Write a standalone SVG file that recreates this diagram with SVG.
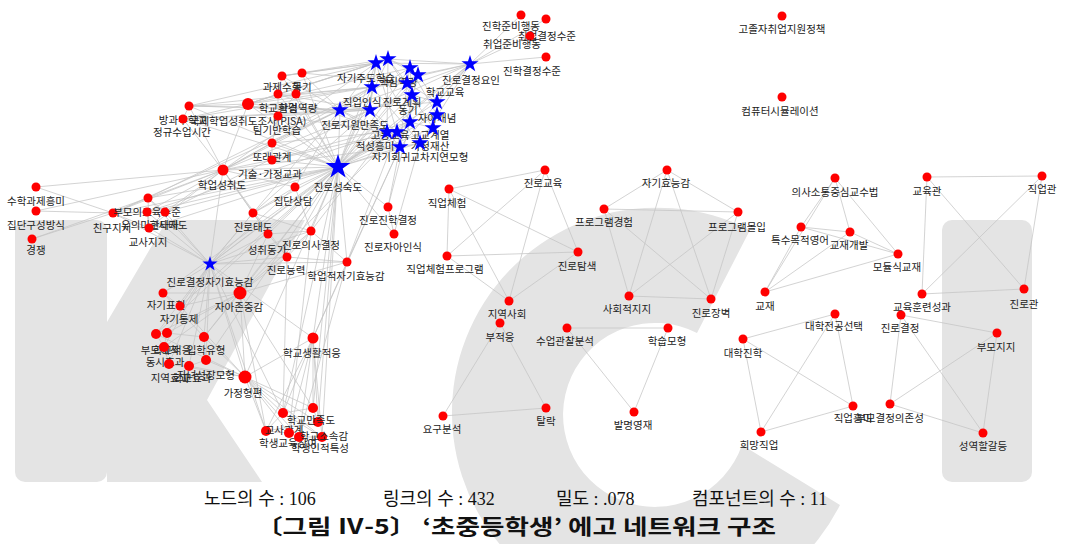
<svg xmlns="http://www.w3.org/2000/svg" width="1066" height="544" viewBox="0 0 1066 544">
<style>
.wm{fill:#e4e4e4}
.e{stroke:#c4c4c4;stroke-width:0.75;fill:none}
.n{fill:#f00}
.s{fill:#00f}
text{font-family:"Noto Sans CJK KR","Noto Sans",sans-serif;font-size:10.5px;fill:#222;text-anchor:middle}
.f1{font-family:"Liberation Serif","Noto Sans CJK KR",serif;font-size:18px;text-anchor:start;fill:#111}
.f2{font-family:"Noto Sans CJK KR",sans-serif;font-size:21px;font-weight:bold;text-anchor:start;fill:#111}
</style>
<defs>
<path id="st" d="M0,-1 L0.223,-0.307 L0.951,-0.309 L0.361,0.117 L0.588,0.809 L0,0.38 L-0.588,0.809 L-0.361,0.117 L-0.951,-0.309 L-0.223,-0.307Z"/>
</defs>
<rect width="1066" height="544" fill="#fff"/>
<g id="watermark">
<rect class="wm" x="15" y="220" width="92" height="262" rx="10"/>
<polygon class="wm" points="107,322 167,220 305,220 207,400 262,482 107,482"/>
<path class="wm" d="M750,230 A205,205 0 1 0 840,505 L742,445 A92,92 0 1 1 697,333 Z"/>
<rect class="wm" x="942" y="220" width="90" height="262" rx="10"/>
</g>
<g id="connectors">
<line class="e" x1="338" y1="167" x2="376" y2="63"/><line class="e" x1="338" y1="167" x2="388" y2="59"/><line class="e" x1="338" y1="167" x2="410" y2="68"/><line class="e" x1="338" y1="167" x2="418" y2="75"/><line class="e" x1="338" y1="167" x2="372" y2="87"/><line class="e" x1="338" y1="167" x2="407" y2="83"/><line class="e" x1="338" y1="167" x2="437" y2="102"/><line class="e" x1="338" y1="167" x2="412" y2="95"/><line class="e" x1="338" y1="167" x2="340" y2="110"/><line class="e" x1="338" y1="167" x2="370" y2="110"/><line class="e" x1="338" y1="167" x2="437" y2="115"/><line class="e" x1="338" y1="167" x2="410" y2="122"/><line class="e" x1="338" y1="167" x2="387" y2="132"/><line class="e" x1="338" y1="167" x2="397" y2="132"/><line class="e" x1="338" y1="167" x2="433" y2="128"/><line class="e" x1="338" y1="167" x2="400" y2="147"/><line class="e" x1="338" y1="167" x2="420" y2="143"/><line class="e" x1="338" y1="167" x2="470" y2="64"/>
<line class="e" x1="338" y1="167" x2="189" y2="106"/><line class="e" x1="338" y1="167" x2="183" y2="119"/><line class="e" x1="338" y1="167" x2="248" y2="104"/><line class="e" x1="338" y1="167" x2="282" y2="76"/><line class="e" x1="338" y1="167" x2="302" y2="73"/><line class="e" x1="338" y1="167" x2="278" y2="94"/><line class="e" x1="338" y1="167" x2="296" y2="94"/><line class="e" x1="338" y1="167" x2="278" y2="116"/><line class="e" x1="338" y1="167" x2="272" y2="143"/><line class="e" x1="338" y1="167" x2="272" y2="160"/><line class="e" x1="338" y1="167" x2="223" y2="170"/>
<line class="e" x1="338" y1="167" x2="295" y2="187"/><line class="e" x1="338" y1="167" x2="253" y2="213"/><line class="e" x1="338" y1="167" x2="268" y2="234"/><line class="e" x1="338" y1="167" x2="311" y2="231"/><line class="e" x1="338" y1="167" x2="287" y2="257"/><line class="e" x1="338" y1="167" x2="347" y2="262"/><line class="e" x1="338" y1="167" x2="388" y2="207"/><line class="e" x1="338" y1="167" x2="394" y2="234"/><line class="e" x1="338" y1="167" x2="210" y2="264"/><line class="e" x1="338" y1="167" x2="240" y2="293"/>
<line class="e" x1="338" y1="167" x2="113" y2="213"/><line class="e" x1="338" y1="167" x2="148" y2="198"/><line class="e" x1="338" y1="167" x2="147" y2="212"/><line class="e" x1="338" y1="167" x2="165" y2="212"/><line class="e" x1="338" y1="167" x2="149" y2="228"/><line class="e" x1="338" y1="167" x2="245" y2="377"/><line class="e" x1="338" y1="167" x2="313" y2="338"/><line class="e" x1="338" y1="167" x2="313" y2="408"/><line class="e" x1="338" y1="167" x2="283" y2="413"/>
<line class="e" x1="338" y1="167" x2="163" y2="293"/><line class="e" x1="338" y1="167" x2="180" y2="306"/><line class="e" x1="338" y1="167" x2="156" y2="334"/><line class="e" x1="338" y1="167" x2="204" y2="337"/><line class="e" x1="338" y1="167" x2="206" y2="360"/><line class="e" x1="338" y1="167" x2="318" y2="422"/><line class="e" x1="338" y1="167" x2="322" y2="437"/>
<line class="e" x1="376" y1="63" x2="388" y2="59"/><line class="e" x1="376" y1="63" x2="372" y2="87"/><line class="e" x1="376" y1="63" x2="340" y2="110"/><line class="e" x1="376" y1="63" x2="370" y2="110"/><line class="e" x1="388" y1="59" x2="410" y2="68"/><line class="e" x1="388" y1="59" x2="407" y2="83"/><line class="e" x1="388" y1="59" x2="418" y2="75"/><line class="e" x1="410" y1="68" x2="418" y2="75"/><line class="e" x1="410" y1="68" x2="407" y2="83"/><line class="e" x1="410" y1="68" x2="412" y2="95"/><line class="e" x1="418" y1="75" x2="437" y2="102"/><line class="e" x1="418" y1="75" x2="470" y2="64"/><line class="e" x1="372" y1="87" x2="407" y2="83"/><line class="e" x1="372" y1="87" x2="340" y2="110"/><line class="e" x1="372" y1="87" x2="370" y2="110"/><line class="e" x1="407" y1="83" x2="412" y2="95"/><line class="e" x1="407" y1="83" x2="437" y2="102"/><line class="e" x1="437" y1="102" x2="437" y2="115"/><line class="e" x1="437" y1="102" x2="412" y2="95"/><line class="e" x1="412" y1="95" x2="370" y2="110"/><line class="e" x1="412" y1="95" x2="410" y2="122"/><line class="e" x1="340" y1="110" x2="370" y2="110"/><line class="e" x1="340" y1="110" x2="387" y2="132"/><line class="e" x1="370" y1="110" x2="387" y2="132"/><line class="e" x1="370" y1="110" x2="397" y2="132"/><line class="e" x1="437" y1="115" x2="433" y2="128"/><line class="e" x1="437" y1="115" x2="410" y2="122"/><line class="e" x1="410" y1="122" x2="397" y2="132"/><line class="e" x1="410" y1="122" x2="433" y2="128"/><line class="e" x1="387" y1="132" x2="397" y2="132"/><line class="e" x1="387" y1="132" x2="400" y2="147"/><line class="e" x1="397" y1="132" x2="400" y2="147"/><line class="e" x1="433" y1="128" x2="420" y2="143"/><line class="e" x1="400" y1="147" x2="420" y2="143"/><line class="e" x1="410" y1="122" x2="420" y2="143"/><line class="e" x1="340" y1="110" x2="400" y2="147"/><line class="e" x1="376" y1="63" x2="410" y2="122"/><line class="e" x1="388" y1="59" x2="433" y2="128"/><line class="e" x1="372" y1="87" x2="420" y2="143"/><line class="e" x1="470" y1="64" x2="376" y2="63"/><line class="e" x1="470" y1="64" x2="388" y2="59"/><line class="e" x1="470" y1="64" x2="372" y2="87"/><line class="e" x1="470" y1="64" x2="340" y2="110"/><line class="e" x1="470" y1="64" x2="370" y2="110"/><line class="e" x1="470" y1="64" x2="387" y2="132"/><line class="e" x1="410" y1="68" x2="437" y2="115"/><line class="e" x1="407" y1="83" x2="400" y2="147"/><line class="e" x1="470" y1="64" x2="437" y2="102"/><line class="e" x1="470" y1="64" x2="420" y2="143"/><line class="e" x1="470" y1="64" x2="410" y2="122"/><line class="e" x1="470" y1="64" x2="400" y2="147"/><line class="e" x1="376" y1="63" x2="397" y2="132"/><line class="e" x1="388" y1="59" x2="387" y2="132"/><line class="e" x1="418" y1="75" x2="400" y2="147"/><line class="e" x1="340" y1="110" x2="437" y2="102"/><line class="e" x1="340" y1="110" x2="410" y2="68"/>
<line class="e" x1="470" y1="64" x2="521" y2="15"/><line class="e" x1="470" y1="64" x2="546" y2="19"/><line class="e" x1="470" y1="64" x2="546" y2="57"/><line class="e" x1="470" y1="64" x2="530" y2="36"/>
<line class="e" x1="340" y1="110" x2="248" y2="104"/><line class="e" x1="340" y1="110" x2="282" y2="76"/><line class="e" x1="340" y1="110" x2="302" y2="73"/><line class="e" x1="372" y1="87" x2="248" y2="104"/><line class="e" x1="372" y1="87" x2="189" y2="106"/><line class="e" x1="376" y1="63" x2="282" y2="76"/><line class="e" x1="376" y1="63" x2="302" y2="73"/><line class="e" x1="370" y1="110" x2="183" y2="119"/><line class="e" x1="370" y1="110" x2="278" y2="94"/><line class="e" x1="372" y1="87" x2="296" y2="94"/><line class="e" x1="387" y1="132" x2="278" y2="116"/><line class="e" x1="340" y1="110" x2="272" y2="143"/><line class="e" x1="388" y1="59" x2="282" y2="76"/><line class="e" x1="388" y1="59" x2="248" y2="104"/><line class="e" x1="376" y1="63" x2="189" y2="106"/><line class="e" x1="370" y1="110" x2="189" y2="106"/>
<line class="e" x1="340" y1="110" x2="223" y2="170"/><line class="e" x1="372" y1="87" x2="223" y2="170"/><line class="e" x1="370" y1="110" x2="223" y2="170"/><line class="e" x1="340" y1="110" x2="113" y2="213"/><line class="e" x1="372" y1="87" x2="148" y2="198"/><line class="e" x1="387" y1="132" x2="147" y2="212"/><line class="e" x1="370" y1="110" x2="165" y2="212"/><line class="e" x1="376" y1="63" x2="223" y2="170"/><line class="e" x1="340" y1="110" x2="189" y2="106"/><line class="e" x1="340" y1="110" x2="183" y2="119"/><line class="e" x1="372" y1="87" x2="183" y2="119"/><line class="e" x1="387" y1="132" x2="272" y2="143"/><line class="e" x1="397" y1="132" x2="272" y2="160"/><line class="e" x1="410" y1="122" x2="272" y2="160"/><line class="e" x1="400" y1="147" x2="223" y2="170"/><line class="e" x1="370" y1="110" x2="278" y2="116"/><line class="e" x1="387" y1="132" x2="278" y2="94"/><line class="e" x1="388" y1="59" x2="278" y2="94"/><line class="e" x1="410" y1="68" x2="296" y2="94"/><line class="e" x1="407" y1="83" x2="302" y2="73"/><line class="e" x1="376" y1="63" x2="248" y2="104"/>
<line class="e" x1="400" y1="147" x2="388" y2="207"/><line class="e" x1="420" y1="143" x2="394" y2="234"/><line class="e" x1="387" y1="132" x2="311" y2="231"/><line class="e" x1="397" y1="132" x2="347" y2="262"/><line class="e" x1="400" y1="147" x2="347" y2="262"/><line class="e" x1="410" y1="122" x2="388" y2="207"/><line class="e" x1="340" y1="110" x2="295" y2="187"/><line class="e" x1="370" y1="110" x2="253" y2="213"/><line class="e" x1="387" y1="132" x2="210" y2="264"/><line class="e" x1="340" y1="110" x2="210" y2="264"/><line class="e" x1="400" y1="147" x2="313" y2="338"/><line class="e" x1="397" y1="132" x2="240" y2="293"/>
<line class="e" x1="189" y1="106" x2="183" y2="119"/><line class="e" x1="189" y1="106" x2="248" y2="104"/><line class="e" x1="183" y1="119" x2="248" y2="104"/><line class="e" x1="248" y1="104" x2="278" y2="94"/><line class="e" x1="248" y1="104" x2="296" y2="94"/><line class="e" x1="282" y1="76" x2="302" y2="73"/><line class="e" x1="282" y1="76" x2="278" y2="94"/><line class="e" x1="278" y1="94" x2="296" y2="94"/><line class="e" x1="296" y1="94" x2="278" y2="116"/><line class="e" x1="278" y1="94" x2="278" y2="116"/><line class="e" x1="248" y1="104" x2="278" y2="116"/><line class="e" x1="278" y1="116" x2="272" y2="143"/><line class="e" x1="272" y1="143" x2="272" y2="160"/><line class="e" x1="272" y1="160" x2="223" y2="170"/><line class="e" x1="223" y1="170" x2="272" y2="143"/><line class="e" x1="248" y1="104" x2="223" y2="170"/><line class="e" x1="189" y1="106" x2="223" y2="170"/><line class="e" x1="183" y1="119" x2="223" y2="170"/>
<line class="e" x1="36" y1="187" x2="113" y2="213"/><line class="e" x1="36" y1="211" x2="113" y2="213"/><line class="e" x1="32" y1="239" x2="113" y2="213"/><line class="e" x1="36" y1="187" x2="223" y2="170"/><line class="e" x1="36" y1="211" x2="223" y2="170"/><line class="e" x1="32" y1="239" x2="148" y2="198"/>
<line class="e" x1="113" y1="213" x2="148" y2="198"/><line class="e" x1="113" y1="213" x2="147" y2="212"/><line class="e" x1="113" y1="213" x2="165" y2="212"/><line class="e" x1="113" y1="213" x2="149" y2="228"/><line class="e" x1="148" y1="198" x2="165" y2="212"/><line class="e" x1="147" y1="212" x2="149" y2="228"/><line class="e" x1="165" y1="212" x2="149" y2="228"/><line class="e" x1="148" y1="198" x2="149" y2="228"/>
<line class="e" x1="113" y1="213" x2="223" y2="170"/><line class="e" x1="148" y1="198" x2="223" y2="170"/><line class="e" x1="147" y1="212" x2="223" y2="170"/><line class="e" x1="165" y1="212" x2="223" y2="170"/><line class="e" x1="149" y1="228" x2="223" y2="170"/>
<line class="e" x1="113" y1="213" x2="210" y2="264"/><line class="e" x1="148" y1="198" x2="210" y2="264"/><line class="e" x1="147" y1="212" x2="210" y2="264"/><line class="e" x1="165" y1="212" x2="210" y2="264"/><line class="e" x1="149" y1="228" x2="210" y2="264"/>
<line class="e" x1="210" y1="264" x2="240" y2="293"/><line class="e" x1="210" y1="264" x2="163" y2="293"/><line class="e" x1="210" y1="264" x2="180" y2="306"/><line class="e" x1="210" y1="264" x2="156" y2="334"/><line class="e" x1="210" y1="264" x2="167" y2="333"/><line class="e" x1="210" y1="264" x2="164" y2="347"/><line class="e" x1="210" y1="264" x2="204" y2="337"/><line class="e" x1="210" y1="264" x2="206" y2="360"/><line class="e" x1="210" y1="264" x2="169" y2="364"/><line class="e" x1="210" y1="264" x2="189" y2="366"/><line class="e" x1="210" y1="264" x2="245" y2="377"/><line class="e" x1="210" y1="264" x2="253" y2="213"/><line class="e" x1="210" y1="264" x2="268" y2="234"/><line class="e" x1="210" y1="264" x2="311" y2="231"/><line class="e" x1="210" y1="264" x2="287" y2="257"/><line class="e" x1="210" y1="264" x2="347" y2="262"/><line class="e" x1="210" y1="264" x2="223" y2="170"/><line class="e" x1="210" y1="264" x2="295" y2="187"/><line class="e" x1="210" y1="264" x2="283" y2="413"/><line class="e" x1="210" y1="264" x2="266" y2="431"/><line class="e" x1="210" y1="264" x2="313" y2="338"/>
<line class="e" x1="163" y1="293" x2="180" y2="306"/><line class="e" x1="163" y1="293" x2="240" y2="293"/><line class="e" x1="180" y1="306" x2="240" y2="293"/><line class="e" x1="156" y1="334" x2="167" y2="333"/><line class="e" x1="156" y1="334" x2="164" y2="347"/><line class="e" x1="167" y1="333" x2="164" y2="347"/><line class="e" x1="167" y1="333" x2="204" y2="337"/><line class="e" x1="204" y1="337" x2="206" y2="360"/><line class="e" x1="164" y1="347" x2="169" y2="364"/><line class="e" x1="169" y1="364" x2="189" y2="366"/><line class="e" x1="206" y1="360" x2="189" y2="366"/><line class="e" x1="204" y1="337" x2="240" y2="293"/><line class="e" x1="206" y1="360" x2="245" y2="377"/><line class="e" x1="189" y1="366" x2="245" y2="377"/><line class="e" x1="156" y1="334" x2="245" y2="377"/><line class="e" x1="167" y1="333" x2="240" y2="293"/><line class="e" x1="164" y1="347" x2="240" y2="293"/><line class="e" x1="204" y1="337" x2="245" y2="377"/><line class="e" x1="169" y1="364" x2="245" y2="377"/><line class="e" x1="180" y1="306" x2="245" y2="377"/><line class="e" x1="240" y1="293" x2="245" y2="377"/><line class="e" x1="156" y1="334" x2="240" y2="293"/><line class="e" x1="163" y1="293" x2="204" y2="337"/>
<line class="e" x1="295" y1="187" x2="253" y2="213"/><line class="e" x1="253" y1="213" x2="268" y2="234"/><line class="e" x1="268" y1="234" x2="311" y2="231"/><line class="e" x1="311" y1="231" x2="287" y2="257"/><line class="e" x1="287" y1="257" x2="347" y2="262"/><line class="e" x1="253" y1="213" x2="311" y2="231"/><line class="e" x1="295" y1="187" x2="311" y2="231"/><line class="e" x1="268" y1="234" x2="287" y2="257"/><line class="e" x1="388" y1="207" x2="394" y2="234"/><line class="e" x1="295" y1="187" x2="223" y2="170"/><line class="e" x1="253" y1="213" x2="223" y2="170"/><line class="e" x1="240" y1="293" x2="287" y2="257"/><line class="e" x1="240" y1="293" x2="268" y2="234"/><line class="e" x1="240" y1="293" x2="311" y2="231"/><line class="e" x1="347" y1="262" x2="311" y2="231"/><line class="e" x1="240" y1="293" x2="347" y2="262"/><line class="e" x1="223" y1="170" x2="268" y2="234"/><line class="e" x1="223" y1="170" x2="287" y2="257"/>
<line class="e" x1="245" y1="377" x2="283" y2="413"/><line class="e" x1="245" y1="377" x2="313" y2="408"/><line class="e" x1="245" y1="377" x2="318" y2="422"/><line class="e" x1="245" y1="377" x2="266" y2="431"/><line class="e" x1="245" y1="377" x2="289" y2="433"/><line class="e" x1="245" y1="377" x2="299" y2="437"/><line class="e" x1="245" y1="377" x2="322" y2="437"/>
<line class="e" x1="313" y1="338" x2="283" y2="413"/><line class="e" x1="313" y1="338" x2="313" y2="408"/><line class="e" x1="313" y1="338" x2="318" y2="422"/><line class="e" x1="313" y1="338" x2="266" y2="431"/><line class="e" x1="313" y1="338" x2="289" y2="433"/><line class="e" x1="313" y1="338" x2="299" y2="437"/><line class="e" x1="313" y1="338" x2="322" y2="437"/><line class="e" x1="313" y1="338" x2="245" y2="377"/><line class="e" x1="313" y1="338" x2="347" y2="262"/>
<line class="e" x1="283" y1="413" x2="313" y2="408"/><line class="e" x1="313" y1="408" x2="318" y2="422"/><line class="e" x1="266" y1="431" x2="289" y2="433"/><line class="e" x1="289" y1="433" x2="299" y2="437"/><line class="e" x1="299" y1="437" x2="322" y2="437"/><line class="e" x1="283" y1="413" x2="322" y2="437"/><line class="e" x1="266" y1="431" x2="318" y2="422"/><line class="e" x1="283" y1="413" x2="266" y2="431"/><line class="e" x1="240" y1="293" x2="313" y2="408"/><line class="e" x1="240" y1="293" x2="266" y2="431"/><line class="e" x1="287" y1="257" x2="283" y2="413"/><line class="e" x1="311" y1="231" x2="289" y2="433"/><line class="e" x1="347" y1="262" x2="299" y2="437"/>
<line class="e" x1="449" y1="189" x2="545" y2="170"/><line class="e" x1="449" y1="189" x2="447" y2="256"/><line class="e" x1="449" y1="189" x2="578" y2="252"/><line class="e" x1="449" y1="189" x2="509" y2="301"/><line class="e" x1="545" y1="170" x2="447" y2="256"/><line class="e" x1="545" y1="170" x2="578" y2="252"/><line class="e" x1="545" y1="170" x2="509" y2="301"/><line class="e" x1="447" y1="256" x2="578" y2="252"/><line class="e" x1="447" y1="256" x2="509" y2="301"/><line class="e" x1="578" y1="252" x2="509" y2="301"/>
<line class="e" x1="667" y1="170" x2="604" y2="209"/><line class="e" x1="667" y1="170" x2="738" y2="212"/><line class="e" x1="667" y1="170" x2="629" y2="296"/><line class="e" x1="667" y1="170" x2="711" y2="299"/><line class="e" x1="604" y1="209" x2="738" y2="212"/><line class="e" x1="604" y1="209" x2="629" y2="296"/><line class="e" x1="604" y1="209" x2="711" y2="299"/><line class="e" x1="738" y1="212" x2="629" y2="296"/><line class="e" x1="738" y1="212" x2="711" y2="299"/><line class="e" x1="629" y1="296" x2="711" y2="299"/>
<line class="e" x1="500" y1="323" x2="443" y2="416"/><line class="e" x1="500" y1="323" x2="546" y2="408"/><line class="e" x1="443" y1="416" x2="546" y2="408"/>
<line class="e" x1="567" y1="328" x2="668" y2="328"/><line class="e" x1="567" y1="328" x2="634" y2="412"/><line class="e" x1="668" y1="328" x2="634" y2="412"/>
<line class="e" x1="835" y1="178" x2="801" y2="227"/><line class="e" x1="835" y1="178" x2="850" y2="232"/><line class="e" x1="835" y1="178" x2="898" y2="254"/><line class="e" x1="835" y1="178" x2="765" y2="292"/><line class="e" x1="801" y1="227" x2="850" y2="232"/><line class="e" x1="801" y1="227" x2="898" y2="254"/><line class="e" x1="801" y1="227" x2="765" y2="292"/><line class="e" x1="850" y1="232" x2="898" y2="254"/><line class="e" x1="850" y1="232" x2="765" y2="292"/><line class="e" x1="898" y1="254" x2="765" y2="292"/>
<line class="e" x1="927" y1="177" x2="1042" y2="176"/><line class="e" x1="927" y1="177" x2="922" y2="294"/><line class="e" x1="927" y1="177" x2="1024" y2="289"/><line class="e" x1="1042" y1="176" x2="922" y2="294"/><line class="e" x1="1042" y1="176" x2="1024" y2="289"/><line class="e" x1="922" y1="294" x2="1024" y2="289"/>
<line class="e" x1="743" y1="339" x2="835" y2="314"/><line class="e" x1="743" y1="339" x2="853" y2="406"/><line class="e" x1="743" y1="339" x2="761" y2="432"/><line class="e" x1="835" y1="314" x2="853" y2="406"/><line class="e" x1="835" y1="314" x2="761" y2="432"/><line class="e" x1="853" y1="406" x2="761" y2="432"/>
<line class="e" x1="901" y1="315" x2="997" y2="333"/><line class="e" x1="901" y1="315" x2="890" y2="404"/><line class="e" x1="901" y1="315" x2="983" y2="433"/><line class="e" x1="997" y1="333" x2="890" y2="404"/><line class="e" x1="997" y1="333" x2="983" y2="433"/><line class="e" x1="890" y1="404" x2="983" y2="433"/>
</g>
<g id="n-jinroseongsukdo"><use href="#st" class="s" transform="translate(338,167) scale(13)"/><text x="338" y="191">진로성숙도</text></g>
<g id="n-jinrogyeoljeongjagihyoneunggam"><use href="#st" class="s" transform="translate(210,264) scale(8)"/><text x="210" y="286">진로결정자기효능감</text></g>
<g id="n-jinrogyeoljeongyoin"><use href="#st" class="s" transform="translate(470,64) scale(9)"/><text x="471" y="84">진로결정요인</text></g>
<g id="n-c1"><use href="#st" class="s" transform="translate(376,63) scale(9)"/><text x="366" y="82">자기주도학습</text></g>
<g id="n-c2"><use href="#st" class="s" transform="translate(388,59) scale(9)"/><text x="398" y="86">핵심역량</text></g>
<g id="n-c3"><use href="#st" class="s" transform="translate(410,68) scale(9)"/><text x="445" y="96">학교교육</text></g>
<g id="n-c4"><use href="#st" class="s" transform="translate(418,75) scale(9)"/></g>
<g id="n-c5"><use href="#st" class="s" transform="translate(372,87) scale(9)"/><text x="362" y="106">직업인식</text></g>
<g id="n-c6"><use href="#st" class="s" transform="translate(407,83) scale(9)"/><text x="402" y="106">진로계획</text></g>
<g id="n-c7"><use href="#st" class="s" transform="translate(437,102) scale(9)"/><text x="437" y="122">자아개념</text></g>
<g id="n-c8"><use href="#st" class="s" transform="translate(412,95) scale(9)"/><text x="408" y="114">동기</text></g>
<g id="n-c9"><use href="#st" class="s" transform="translate(340,110) scale(9)"/><text x="355" y="129">진로지원만족도</text></g>
<g id="n-c10"><use href="#st" class="s" transform="translate(370,110) scale(9)"/></g>
<g id="n-c11"><use href="#st" class="s" transform="translate(437,115) scale(9)"/><text x="430" y="139">고교계열</text></g>
<g id="n-c12"><use href="#st" class="s" transform="translate(410,122) scale(9)"/><text x="390" y="139">고등교육</text></g>
<g id="n-c13"><use href="#st" class="s" transform="translate(387,132) scale(9)"/><text x="375" y="150">적성흥미</text></g>
<g id="n-c14"><use href="#st" class="s" transform="translate(397,132) scale(9)"/></g>
<g id="n-c15"><use href="#st" class="s" transform="translate(433,128) scale(9)"/><text x="430" y="150">가정재산</text></g>
<g id="n-c16"><use href="#st" class="s" transform="translate(400,147) scale(9)"/><text x="420" y="161">자기회귀교차지연모형</text></g>
<g id="n-c17"><use href="#st" class="s" transform="translate(420,143) scale(9)"/></g>
<g id="n-t1"><circle class="n" cx="521" cy="15" r="4.5"/><text x="511" y="30">진학준비행동</text></g>
<g id="n-t2"><circle class="n" cx="546" cy="19" r="4.5"/><text x="547" y="40">취업결정수준</text></g>
<g id="n-t3"><circle class="n" cx="530" cy="36" r="4.5"/><text x="512" y="48">취업준비행동</text></g>
<g id="n-t4"><circle class="n" cx="546" cy="57" r="4.5"/><text x="532" y="75">진학결정수준</text></g>
<g id="n-u1"><circle class="n" cx="189" cy="106" r="4.5"/><text x="183" y="124">방과후학교</text></g>
<g id="n-u2"><circle class="n" cx="183" cy="119" r="4.5"/><text x="182" y="136">정규수업시간</text></g>
<g id="n-u3"><circle class="n" cx="248" cy="104" r="6"/><text x="248" y="125">국제학업성취도조사(PISA)</text></g>
<g id="n-u4"><circle class="n" cx="282" cy="76" r="4.5"/><text x="282" y="91">과제수행</text></g>
<g id="n-u5"><circle class="n" cx="302" cy="73" r="4.5"/><text x="302" y="91">동기</text></g>
<g id="n-u6"><circle class="n" cx="278" cy="94" r="4.5"/><text x="278" y="112">학교환경</text></g>
<g id="n-u7"><circle class="n" cx="296" cy="94" r="4.5"/><text x="298" y="112">학업역량</text></g>
<g id="n-u8"><circle class="n" cx="278" cy="116" r="4.5"/><text x="277" y="134">팀기반학습</text></g>
<g id="n-u9"><circle class="n" cx="272" cy="143" r="4.5"/><text x="272" y="161">또래관계</text></g>
<g id="n-u10"><circle class="n" cx="272" cy="160" r="4.5"/><text x="270" y="178">기술·가정교과</text></g>
<g id="n-u11"><circle class="n" cx="223" cy="170" r="5.5"/><text x="222" y="189">학업성취도</text></g>
<g id="n-l1"><circle class="n" cx="36" cy="187" r="4.5"/><text x="36" y="205">수학과제흥미</text></g>
<g id="n-l2"><circle class="n" cx="36" cy="211" r="4.5"/><text x="36" y="229">집단구성방식</text></g>
<g id="n-l3"><circle class="n" cx="32" cy="239" r="4.5"/><text x="36" y="254">경쟁</text></g>
<g id="n-l4"><circle class="n" cx="113" cy="213" r="4.5"/><text x="112" y="232">친구지지</text></g>
<g id="n-l5"><circle class="n" cx="148" cy="198" r="4.5"/><text x="147" y="216">부모의교육수준</text></g>
<g id="n-l6"><circle class="n" cx="147" cy="212" r="4.5"/><text x="150" y="229">유의미한타자</text></g>
<g id="n-l7"><circle class="n" cx="165" cy="212" r="4.5"/><text x="168" y="229">교사태도</text></g>
<g id="n-l8"><circle class="n" cx="149" cy="228" r="4.5"/><text x="148" y="246">교사지지</text></g>
<g id="n-m1"><circle class="n" cx="295" cy="187" r="4.5"/><text x="293" y="205">집단상담</text></g>
<g id="n-m2"><circle class="n" cx="253" cy="213" r="4.5"/><text x="253" y="231">진로태도</text></g>
<g id="n-m3"><circle class="n" cx="268" cy="234" r="4.5"/><text x="267" y="254">성취동기</text></g>
<g id="n-m4"><circle class="n" cx="311" cy="231" r="4.5"/><text x="311" y="249">진로의사결정</text></g>
<g id="n-m5"><circle class="n" cx="287" cy="257" r="4.5"/><text x="286" y="274">진로능력</text></g>
<g id="n-m6"><circle class="n" cx="347" cy="262" r="4.5"/><text x="346" y="280">학업적자기효능감</text></g>
<g id="n-m7"><circle class="n" cx="388" cy="207" r="4.5"/><text x="388" y="224">진로진학결정</text></g>
<g id="n-m8"><circle class="n" cx="394" cy="234" r="4.5"/><text x="393" y="251">진로자아인식</text></g>
<g id="n-k1"><circle class="n" cx="240" cy="293" r="6.5"/><text x="239" y="311">자아존중감</text></g>
<g id="n-k2"><circle class="n" cx="163" cy="293" r="4.5"/><text x="166" y="309">자기표현</text></g>
<g id="n-k3"><circle class="n" cx="180" cy="306" r="4.5"/><text x="179" y="323">자기통제</text></g>
<g id="n-k4"><circle class="n" cx="156" cy="334" r="5"/><text x="160" y="354">부모애착</text></g>
<g id="n-k5"><circle class="n" cx="167" cy="333" r="5"/><text x="172" y="354">학교적응</text></g>
<g id="n-k6"><circle class="n" cx="164" cy="347" r="5"/><text x="165" y="366">동시효과</text></g>
<g id="n-k7"><circle class="n" cx="204" cy="337" r="5"/><text x="206" y="354">입학유형</text></g>
<g id="n-k8"><circle class="n" cx="206" cy="360" r="5"/><text x="206" y="379">자녀성장모형</text></g>
<g id="n-k9"><circle class="n" cx="169" cy="364" r="5"/><text x="170" y="382">지역효과</text></g>
<g id="n-k10"><circle class="n" cx="189" cy="366" r="5"/><text x="192" y="382">학교효과</text></g>
<g id="n-k11"><circle class="n" cx="245" cy="377" r="6.5"/><text x="243" y="397">가정형편</text></g>
<g id="n-k12"><circle class="n" cx="313" cy="338" r="5.5"/><text x="312" y="357">학교생활적응</text></g>
<g id="n-w1"><circle class="n" cx="283" cy="413" r="5"/></g>
<g id="n-w2"><circle class="n" cx="313" cy="408" r="5"/></g>
<g id="n-w3"><circle class="n" cx="318" cy="422" r="5"/><text x="311" y="424">학교만족도</text></g>
<g id="n-w4"><circle class="n" cx="266" cy="431" r="5"/><text x="284" y="434">교사관계</text></g>
<g id="n-w5"><circle class="n" cx="289" cy="433" r="5"/><text x="288" y="447">학생교육참여</text></g>
<g id="n-w6"><circle class="n" cx="299" cy="437" r="5"/><text x="320" y="452">학생인적특성</text></g>
<g id="n-w7"><circle class="n" cx="322" cy="437" r="5"/><text x="324" y="440">학교소속감</text></g>
<g id="n-gojol"><circle class="n" cx="782" cy="16" r="4.5"/><text x="782" y="33">고졸자취업지원정책</text></g>
<g id="n-computer"><circle class="n" cx="782" cy="97" r="4.5"/><text x="780" y="115">컴퓨터시뮬레이션</text></g>
<g id="n-jinrogyoyuk"><circle class="n" cx="545" cy="170" r="4.5"/><text x="543" y="187">진로교육</text></g>
<g id="n-jigeopcheheom"><circle class="n" cx="449" cy="189" r="4.5"/><text x="447" y="207">직업체험</text></g>
<g id="n-jigeopcheheomprogram"><circle class="n" cx="447" cy="256" r="4.5"/><text x="445" y="273">직업체험프로그램</text></g>
<g id="n-jinrotamsaek"><circle class="n" cx="578" cy="252" r="4.5"/><text x="577" y="270">진로탐색</text></g>
<g id="n-jiyeoksahoe"><circle class="n" cx="509" cy="301" r="4.5"/><text x="507" y="318">지역사회</text></g>
<g id="n-bujeogeung"><circle class="n" cx="500" cy="323" r="4.5"/><text x="500" y="341">부적응</text></g>
<g id="n-programgyeongheom"><circle class="n" cx="604" cy="209" r="4.5"/><text x="604" y="226">프로그램경험</text></g>
<g id="n-jagihyoneunggam"><circle class="n" cx="667" cy="170" r="4.5"/><text x="666" y="187">자기효능감</text></g>
<g id="n-programmollip"><circle class="n" cx="738" cy="212" r="4.5"/><text x="737" y="231">프로그램몰입</text></g>
<g id="n-sahoejeokjiji"><circle class="n" cx="629" cy="296" r="4.5"/><text x="627" y="313">사회적지지</text></g>
<g id="n-jinrojangbyeok"><circle class="n" cx="711" cy="299" r="4.5"/><text x="711" y="317">진로장벽</text></g>
<g id="n-sueopgwanchal"><circle class="n" cx="567" cy="328" r="4.5"/><text x="565" y="345">수업관찰분석</text></g>
<g id="n-hakseupmohyeong"><circle class="n" cx="668" cy="328" r="4.5"/><text x="667" y="345">학습모형</text></g>
<g id="n-balmyeongyeongjae"><circle class="n" cx="634" cy="412" r="4.5"/><text x="633" y="429">발명영재</text></g>
<g id="n-tallak"><circle class="n" cx="546" cy="408" r="4.5"/><text x="546" y="425">탈락</text></g>
<g id="n-yogubunseok"><circle class="n" cx="443" cy="416" r="4.5"/><text x="442" y="433">요구분석</text></g>
<g id="n-uisasotong"><circle class="n" cx="835" cy="178" r="4.5"/><text x="835" y="196">의사소통중심교수법</text></g>
<g id="n-teuksumokjeok"><circle class="n" cx="801" cy="227" r="4.5"/><text x="800" y="244">특수목적영어</text></g>
<g id="n-gyojaegaebal"><circle class="n" cx="850" cy="232" r="4.5"/><text x="849" y="249">교재개발</text></g>
<g id="n-modulsik"><circle class="n" cx="898" cy="254" r="4.5"/><text x="897" y="271">모듈식교재</text></g>
<g id="n-gyojae"><circle class="n" cx="765" cy="292" r="4.5"/><text x="765" y="310">교재</text></g>
<g id="n-gyoyukgwan"><circle class="n" cx="927" cy="177" r="4.5"/><text x="927" y="195">교육관</text></g>
<g id="n-jigeopgwan"><circle class="n" cx="1042" cy="176" r="4.5"/><text x="1042" y="193">직업관</text></g>
<g id="n-gyoyukhullyeon"><circle class="n" cx="922" cy="294" r="4.5"/><text x="922" y="311">교육훈련성과</text></g>
<g id="n-jinrogwan"><circle class="n" cx="1024" cy="289" r="4.5"/><text x="1024" y="308">진로관</text></g>
<g id="n-daehakjeongong"><circle class="n" cx="835" cy="314" r="4.5"/><text x="834" y="330">대학전공선택</text></g>
<g id="n-daehakjinhak"><circle class="n" cx="743" cy="339" r="4.5"/><text x="743" y="357">대학진학</text></g>
<g id="n-jigeopheungmi"><circle class="n" cx="853" cy="406" r="4.5"/><text x="853" y="422">직업흥미</text></g>
<g id="n-heemangjigeop"><circle class="n" cx="761" cy="432" r="4.5"/><text x="759" y="449">희망직업</text></g>
<g id="n-jinrogyeoljeong"><circle class="n" cx="901" cy="315" r="4.5"/><text x="900" y="332">진로결정</text></g>
<g id="n-bumojiji"><circle class="n" cx="997" cy="333" r="4.5"/><text x="996" y="351">부모지지</text></g>
<g id="n-bumogyeoljeong"><circle class="n" cx="890" cy="404" r="4.5"/><text x="890" y="422">부모결정의존성</text></g>
<g id="n-seongyeokhal"><circle class="n" cx="983" cy="433" r="4.5"/><text x="983" y="450">성역할갈등</text></g>
<g id="stats">
<text class="f1" x="204" y="505">노드의 수 : 106</text>
<text class="f1" x="383" y="505">링크의 수 : 432</text>
<text class="f1" x="556" y="505">밀도 : .078</text>
<text class="f1" x="692" y="505">컴포넌트의 수 : 11</text>
</g>
<text class="f2" x="256" y="534" textLength="520" lengthAdjust="spacingAndGlyphs">〔그림 Ⅳ-5〕 ‘초중등학생’ 에고 네트워크 구조</text>
</svg>
